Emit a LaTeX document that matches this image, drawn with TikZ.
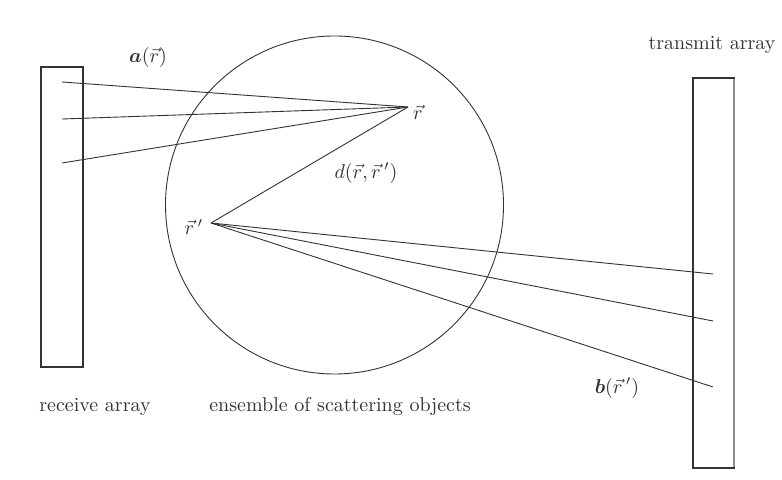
\documentclass[tikz,border=0pt]{standalone}
\usepackage{bm}
\begin{document}
\begin{tikzpicture}[x=0.5pt,y=-0.5pt,
  ray/.style={draw=black!80,line width=0.45pt},
  arr/.style={draw=black!80,line width=0.6pt},
  lbl/.style={font=\normalsize,text=black!80,inner sep=0pt}]
\useasboundingbox (0,0) rectangle (782,480);
% receive array
\draw[arr] (41,67) rectangle (83,367);
% transmit array
\draw[arr] (693,78) rectangle (734,468);
\draw[draw=black!45,line width=1.2pt] (734,79) -- (734,467);
% circle
\node[draw=black!80,line width=0.45pt,circle,minimum size=169pt,inner sep=0pt] (ens) at (334.5,205) {};
% points
\coordinate (r) at (408,107);
\coordinate (rp) at (211,223);
\coordinate (a1) at (62,82);
\coordinate (a2) at (62,119);
\coordinate (a3) at (62,163);
\coordinate (b1) at (713,274);
\coordinate (b2) at (713,321);
\coordinate (b3) at (713,387);
\draw[ray] (a1) -- (r);
\draw[ray] (a2) -- (r);
\draw[ray] (a3) -- (r);
\draw[ray] (r) -- (rp);
\draw[ray] (rp) -- (b1);
\draw[ray] (rp) -- (b2);
\draw[ray] (rp) -- (b3);
% labels
\node[lbl] (lr) at (418,112) {$\vec{r}$};
\node[lbl] (lrp) at (194,227) {$\vec{r}\,'$};
\node[lbl] (ld) at (366,173) {$d(\vec{r},\vec{r}\,')$};
\node[lbl] (la) at (148,58) {$\bm{a}(\vec{r})$};
\node[lbl] (lb) at (617,388) {$\bm{b}(\vec{r}\,')$};
\node[lbl] (lt) at (712,45) {transmit array};
\node[lbl] (lrx) at (95,407) {receive array};
\node[lbl] (lens) at (340,407) {ensemble of scattering objects};
\end{tikzpicture}
\end{document}
